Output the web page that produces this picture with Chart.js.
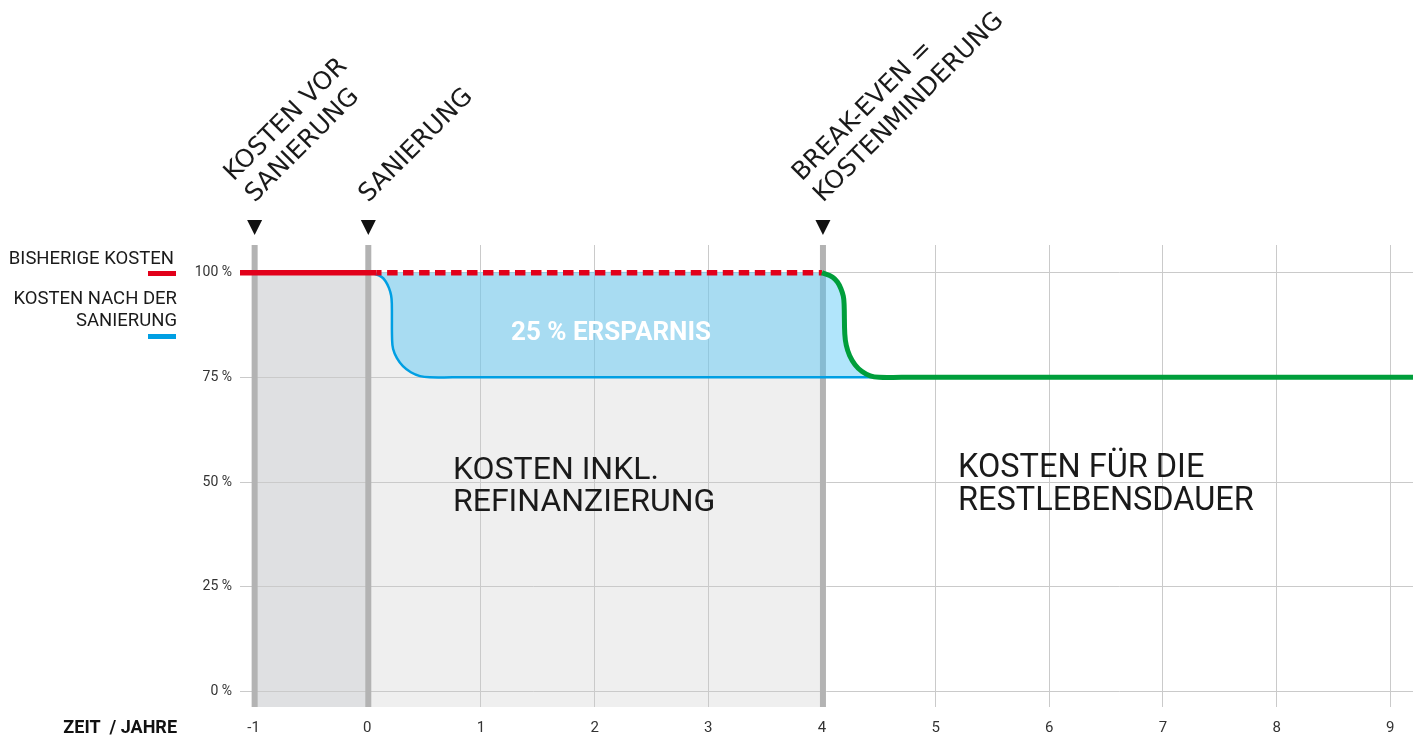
<!DOCTYPE html>
<html><head><meta charset="utf-8">
<script src="https://cdn.jsdelivr.net/npm/chart.js@4"></script>
<style>html,body{margin:0;padding:0;background:#fff;}canvas{display:block}</style>
</head><body>
<canvas id="c" width="1421" height="738"></canvas>
<script>
// ---- data ----
const xTickValues = [-1, 0, 1, 2, 3, 4, 5, 6, 7, 8, 9];
const yTickValues = [0, 25, 50, 75, 100];
const milestoneYears = [-1, 0, 4];
const milestoneLabels = [["KOSTEN VOR", "SANIERUNG"], ["SANIERUNG"], ["BREAK-EVEN =", "KOSTENMINDERUNG"]];
const bisherigeX = [-1.12, 0.08];
const bisherigeY = [100, 100];
const bisherigeDashX = [0.08, 4.0];
const bisherigeDashY = [100, 100];
const nachSanierungX = [0.035, 0.125, 0.163, 0.191, 0.2095, 0.2157, 0.218, 0.2271, 0.2606, 0.3134, 0.3829, 0.4639, 0.5502, 0.75, 4.55];
const nachSanierungY = [100, 99.0, 97.84, 96.3, 94.53, 92.6, 84.15, 81.78, 79.58, 77.68, 76.22, 75.3, 75, 75, 75];
const restX = [4.0, 4.093, 4.136, 4.167, 4.188, 4.195, 4.201, 4.214, 4.244, 4.291, 4.353, 4.425, 4.503, 4.7, 9.2];
const restY = [100, 98.94, 97.77, 96.17, 94.34, 92.37, 85.33, 82.65, 80.16, 78.03, 76.38, 75.35, 75, 75, 75];
const savingLabel = "25 % ERSPARNIS";
const regionLabels = [["KOSTEN INKL.", "REFINANZIERUNG"], ["KOSTEN FÜR DIE", "RESTLEBENSDAUER"]];
const legendLabels = [["BISHERIGE KOSTEN"], ["KOSTEN NACH DER", "SANIERUNG"]];
const xAxisTitle = "ZEIT  / JAHRE";

const zip = (xs, ys) => xs.map((x, i) => ({x, y: ys[i]}));
const restPts = zip(restX, restY);
const upperBoundary = [{x: nachSanierungX[0], y: bisherigeDashY[0]}].concat(restPts.filter(p => p.x <= 4.51));

const RED = '#e2001a', BLUE = '#009fe3', GREEN = '#009e3b';

const deco = {
  id: 'deco',
  beforeDraw(chart) {
    const {ctx, chartArea: a, scales: {x, y}} = chart;
    const top = y.getPixelForValue(100);
    ctx.save();
    ctx.fillStyle = '#dfe0e2';
    ctx.fillRect(x.getPixelForValue(milestoneYears[0]), top, x.getPixelForValue(milestoneYears[1]) - x.getPixelForValue(milestoneYears[0]), a.bottom - top);
    ctx.fillStyle = '#efefef';
    ctx.fillRect(x.getPixelForValue(milestoneYears[1]), top, x.getPixelForValue(milestoneYears[2]) - x.getPixelForValue(milestoneYears[1]), a.bottom - top);
    ctx.restore();
  },
  beforeDatasetsDraw(chart) {
    const {ctx, chartArea: a, scales: {x}} = chart;
    ctx.save();
    ctx.strokeStyle = '#b3b3b3';
    ctx.lineWidth = 6;
    milestoneYears.forEach(v => {
      const px = x.getPixelForValue(v) + 1;
      ctx.beginPath(); ctx.moveTo(px, a.top); ctx.lineTo(px, a.bottom); ctx.stroke();
    });
    ctx.restore();
  },
  afterDraw(chart) {
    const {ctx, scales: {x}} = chart;
    ctx.save();
    milestoneYears.forEach((v, i) => {
      const px = x.getPixelForValue(v) + 1;
      ctx.fillStyle = '#111';
      ctx.beginPath();
      ctx.moveTo(px - 7.5, 220); ctx.lineTo(px + 7.5, 220); ctx.lineTo(px, 235); ctx.closePath(); ctx.fill();
      const lines = milestoneLabels[i];
      ctx.save();
      ctx.translate(px, 203);
      ctx.rotate(-Math.PI / 4);
      ctx.font = "400 25px 'DejaVu Sans'";
      ctx.fillStyle = '#1a1a1a';
      ctx.textAlign = 'left';
      ctx.textBaseline = 'alphabetic';
      lines.forEach((t, j) => ctx.fillText(t, 0, -(lines.length - 1 - j) * 30));
      ctx.restore();
    });
    // legend
    ctx.fillStyle = '#1a1a1a';
    ctx.font = "400 18.5px Roboto";
    ctx.textAlign = 'right';
    ctx.textBaseline = 'alphabetic';
    ctx.fillText(legendLabels[0][0], 174, 264);
    ctx.fillText(legendLabels[1][0], 177, 304);
    ctx.fillText(legendLabels[1][1], 177, 326);
    ctx.fillStyle = RED; ctx.fillRect(148, 271, 28, 5);
    ctx.fillStyle = BLUE; ctx.fillRect(148, 334, 28, 5);
    // axis title
    ctx.fillStyle = '#111';
    ctx.font = "700 18px Roboto";
    ctx.fillText(xAxisTitle, 177, 733);
    // saving label
    ctx.fillStyle = '#ffffff';
    ctx.font = "700 26px Roboto";
    ctx.textAlign = 'center';
    ctx.fillText(savingLabel, 611, 340);
    // region labels
    ctx.fillStyle = '#1a1a1a';
    ctx.textAlign = 'left';
    ctx.font = "400 32px Roboto";
    ctx.fillText(regionLabels[0][0], 453, 479);
    ctx.fillText(regionLabels[0][1], 453, 511);
    ctx.font = "400 32.5px Roboto";
    ctx.fillText(regionLabels[1][0], 958, 477);
    ctx.fillText(regionLabels[1][1], 958, 510);
    ctx.restore();
  }
};

const lineBase = {pointRadius: 0, pointHoverRadius: 0, fill: false, tension: 0.4};

new Chart(document.getElementById('c'), {
  type: 'line',
  data: {
    datasets: [
      Object.assign({label: 'Restlebensdauer', data: restPts, borderColor: GREEN, borderWidth: 5}, lineBase),
      Object.assign({label: 'Bisherige Kosten', data: zip(bisherigeX, bisherigeY), borderColor: RED, borderWidth: 5.5}, lineBase),
      Object.assign({label: 'Bisherige Kosten (weiter)', data: zip(bisherigeDashX, bisherigeDashY), borderColor: RED, borderWidth: 5.5, borderDash: [10.5, 5.5], borderDashOffset: 5.5}, lineBase),
      Object.assign({}, lineBase, {label: 'Kosten nach der Sanierung', data: zip(nachSanierungX, nachSanierungY), borderColor: BLUE, borderWidth: 2.5, fill: {target: 4}, backgroundColor: 'rgba(81,197,246,0.45)'}),
      Object.assign({label: 'upper', data: upperBoundary, borderColor: 'rgba(0,0,0,0)', borderWidth: 0}, lineBase)
    ]
  },
  options: {
    responsive: false,
    animation: false,
    events: [],
    layout: {padding: {top: 245, right: 8, left: 0, bottom: 0}},
    plugins: {legend: {display: false}, tooltip: {enabled: false}},
    scales: {
      x: {
        type: 'linear', min: -1.12, max: 9.2,
        afterBuildTicks: s => { s.ticks = xTickValues.map(v => ({value: v})); },
        afterFit: s => { s.height = 31; },
        grid: {color: '#cacaca', lineWidth: 1, drawTicks: false},
        border: {display: false},
        ticks: {padding: 12, color: '#333', font: {family: 'Roboto', size: 15}, autoSkip: false, maxRotation: 0}
      },
      y: {
        type: 'linear', min: -3.7, max: 106.6,
        afterBuildTicks: s => { s.ticks = yTickValues.map(v => ({value: v})); },
        afterFit: s => { s.width = 240; },
        grid: {color: '#cacaca', lineWidth: 1, drawTicks: false},
        border: {display: false},
        ticks: {padding: 8, color: '#333', font: {family: 'Roboto', size: 14}, callback: v => v + ' %'}
      }
    }
  },
  plugins: [deco]
});
</script>
</body></html>
